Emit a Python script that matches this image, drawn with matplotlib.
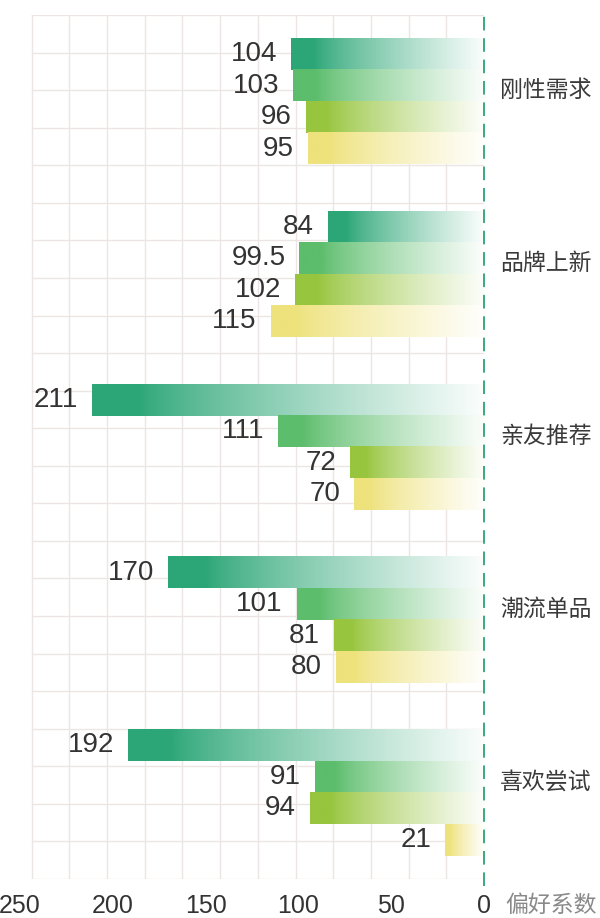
import numpy as np
import matplotlib.pyplot as plt
from matplotlib.colors import to_rgb

plt.rcParams['font.family'] = ['Liberation Sans', 'Noto Sans CJK SC', 'DejaVu Sans']

# data
groups = ['刚性需求', '品牌上新', '亲友推荐', '潮流单品', '喜欢尝试']
s1 = [104, 84, 211, 170, 192]
s2 = [103, 99.5, 111, 101, 91]
s3 = [96, 102, 72, 81, 94]
s4 = [95, 115, 70, 80, 21]
series = [s1, s2, s3, s4]
colors = ['#2ca677', '#5cbd6c', '#97c53e', '#eee27c']
xticks = [250, 200, 150, 100, 50, 0]
xlabel = '偏好系数'

W, H = 600, 918
fig = plt.figure(figsize=(W / 100, H / 100), dpi=100)
fig.patch.set_facecolor('white')
ax = fig.add_axes([20 / W, (H - 879) / H, (484 - 20) / W, (879 - 15) / H])

ncell_y = 23
grid_right = 243.7
slot = ncell_y / len(groups)
bar_h = 0.8385
pad_top = (slot - 4 * bar_h) / 2

# decorative square grid
gcol = '#ebe6e4'
for gx in np.linspace(0, grid_right, 13)[1:]:
    ax.plot([gx, gx], [0, ncell_y], color=gcol, lw=1.0, zorder=0)
for gy in range(ncell_y + 1):
    ax.plot([0, grid_right], [gy, gy], color=gcol, lw=1.0, zorder=0)


def gradient(color, n=256):
    t = np.linspace(0, 1, n)
    b = np.clip((t - 0.12) / 0.88, 0, 1) ** 0.8 * 0.98
    c = np.array(to_rgb(color))
    row = c[None, :] * (1 - b[:, None]) + b[:, None]
    return row[None, :, :]


for g, name in enumerate(groups):
    top = g * slot + pad_top
    for k, s in enumerate(series):
        v = s[g]
        y0 = top + k * bar_h
        ax.imshow(gradient(colors[k]), extent=(v, 0, y0 + bar_h, y0),
                  aspect='auto', interpolation='bilinear', zorder=2)
        ax.annotate(f'{v:g}', xy=(v, y0 + bar_h / 2), xytext=(-10, 0),
                    textcoords='offset points', ha='right', va='center',
                    fontsize=20, color='#333333', zorder=3)
    ax.annotate(name, xy=(0, g * slot + slot / 2 - 0.29), xytext=(11.5, 0),
                textcoords='offset points', ha='left', va='center',
                fontsize=16.5, color='#3a3a3a', annotation_clip=False,
                weight='medium', family=['Noto Sans CJK SC', 'DejaVu Sans'])

ax.axvline(0, ymin=-0.008, ymax=1, color='#3aa97e', lw=1.4,
           linestyle=(0, (7, 4)), zorder=4, clip_on=False)

ax.set_xlim(250, 0)
ax.set_ylim(ncell_y, 0)
ax.set_xticks(xticks)
ax.set_xticklabels([str(t) for t in xticks])
ax.tick_params(axis='x', length=0, pad=11, labelsize=18, labelcolor='#333333')
ax.set_yticks([])
for sp in ax.spines.values():
    sp.set_visible(False)

fig.text(505 / W, 1 - 905 / H, xlabel, ha='left', va='center', fontsize=16.5,
         color='#8a8a8a', family=['Noto Sans CJK SC', 'DejaVu Sans'])

fig.savefig('out.png', dpi=100, facecolor='white')
